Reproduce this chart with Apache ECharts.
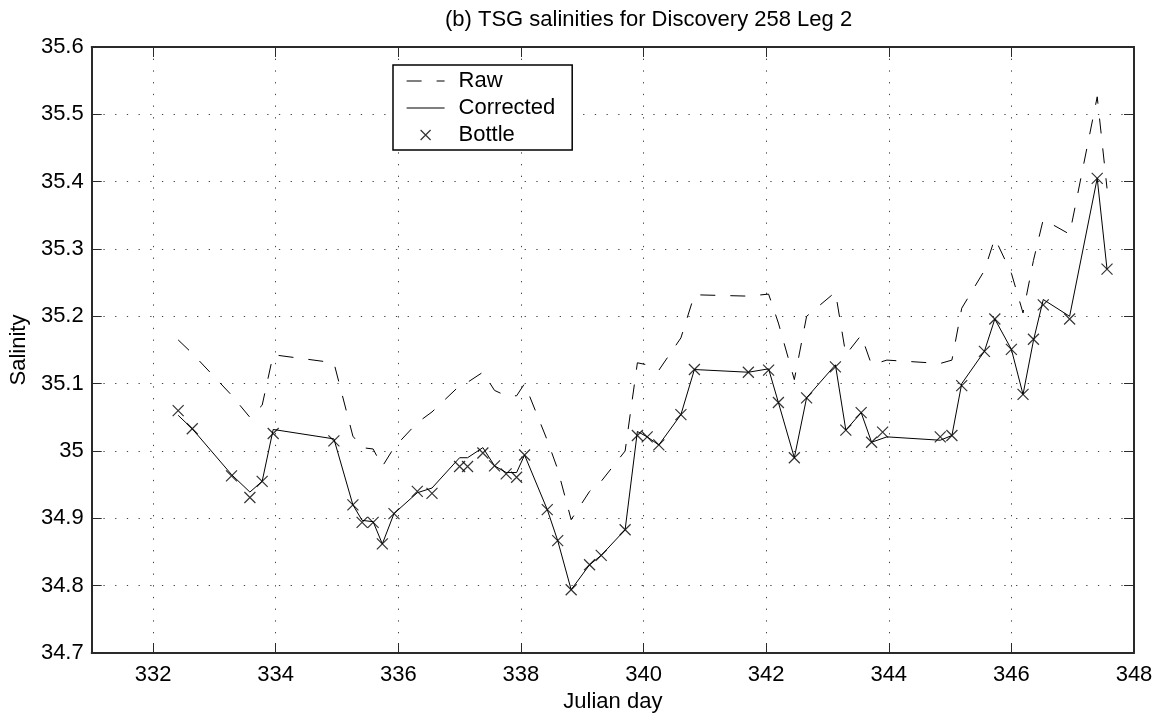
<!DOCTYPE html>
<html>
<head>
<meta charset="utf-8">
<script src="https://cdn.jsdelivr.net/npm/echarts@6/dist/echarts.min.js"></script>
<style>
  html, body { margin: 0; padding: 0; background: #fff; }
  #chart { width: 1166px; height: 718px; }
</style>
</head>
<body>
<div id="chart"></div>
<script>
// Julian days at which the underway TSG record has vertices
const lineDays = [332.41, 332.64, 333.28, 333.58, 333.78, 333.96, 334.95, 335.26, 335.41, 335.59,
  335.74, 335.93, 336.31, 336.55, 337.00, 337.13, 337.38, 337.57, 337.76, 337.93,
  338.06, 338.43, 338.60, 338.82, 339.12, 339.31, 339.70, 339.90, 340.06, 340.25,
  340.61, 340.83, 341.71, 342.04, 342.20, 342.46, 342.66, 343.13, 343.30, 343.55,
  343.72, 343.97, 344.84, 345.03, 345.19, 345.56, 345.73, 346.00, 346.19, 346.36,
  346.52, 346.95, 347.40, 347.56];

// Raw TSG salinity
const rawSal = [35.165, 35.145, 35.083, 35.050, 35.068, 35.143, 35.131, 35.022, 35.005, 35.003,
  34.977, 35.005, 35.042, 35.058, 35.097, 35.102, 35.117, 35.090, 35.082, 35.082,
  35.100, 35.016, 34.973, 34.898, 34.940, 34.955, 35.000, 35.131, 35.128, 35.120,
  35.168, 35.232, 35.230, 35.233, 35.190, 35.106, 35.200, 35.236, 35.143, 35.172,
  35.128, 35.135, 35.130, 35.135, 35.212, 35.268, 35.316, 35.264, 35.205, 35.283,
  35.344, 35.322, 35.526, 35.390];

// TSG salinity after calibration against bottle samples
const correctedSal = [35.053, 35.033, 34.965, 34.939, 34.955, 35.032, 35.018, 34.920, 34.897, 34.895,
  34.862, 34.907, 34.938, 34.945, 34.990, 34.990, 35.005, 34.978, 34.968, 34.968,
  34.994, 34.913, 34.867, 34.794, 34.831, 34.845, 34.883, 35.029, 35.021, 35.009,
  35.054, 35.121, 35.117, 35.122, 35.072, 34.990, 35.079, 35.128, 35.031, 35.057,
  35.013, 35.021, 35.016, 35.023, 35.100, 35.148, 35.196, 35.151, 35.084, 35.164,
  35.225, 35.200, 35.405, 35.270];

// Bottle samples
const bottleDays = [332.41, 332.64, 333.28, 333.58, 333.78, 333.96, 334.95, 335.26, 335.41, 335.59,
  335.74, 335.93, 336.31, 336.55, 337.00, 337.13, 337.38, 337.57, 337.76, 337.93,
  338.06, 338.43, 338.60, 338.82, 339.12, 339.31, 339.70, 339.90, 340.06, 340.25,
  340.61, 340.83, 341.71, 342.04, 342.20, 342.46, 342.66, 343.13, 343.30, 343.55,
  343.72, 343.90, 344.84, 345.03, 345.19, 345.56, 345.73, 346.00, 346.19, 346.36,
  346.52, 346.95, 347.40, 347.56];
const bottleSal = [35.060, 35.033, 34.963, 34.931, 34.955, 35.026, 35.015, 34.920, 34.894, 34.894,
  34.862, 34.907, 34.940, 34.937, 34.977, 34.977, 34.997, 34.978, 34.966, 34.961,
  34.994, 34.913, 34.867, 34.794, 34.831, 34.845, 34.883, 35.023, 35.021, 35.009,
  35.054, 35.121, 35.117, 35.120, 35.072, 34.990, 35.079, 35.125, 35.031, 35.057,
  35.013, 35.028, 35.021, 35.023, 35.097, 35.148, 35.196, 35.151, 35.084, 35.166,
  35.217, 35.196, 35.405, 35.270];

// Axis ranges and tick positions
const xMin = 331, xMax = 348;
const xTicks = [332, 334, 336, 338, 340, 342, 344, 346, 348];
const yMin = 34.7, yMax = 35.6, yStep = 0.1;

const FONT = "'Liberation Sans', Arial, Helvetica, sans-serif";
const INK = '#000';
const FRAME = '#2a2a2a';

const pairs = (xs, ys) => xs.map((x, i) => [x, ys[i]]);

const crossPath = 'path://M0,0L10,10M10,0L0,10';
const crossLegendIcon = 'path://M0,0M38,14M14,2L24,12M24,2L14,12';

const gridLine = { show: true, lineStyle: { color: '#444', width: 1, type: [1.3, 10.4] } };
const frameLine = { show: true, onZero: false, lineStyle: { color: FRAME, width: 2 } };
const tickIn = { show: true, inside: true, length: 10, lineStyle: { color: FRAME, width: 1 } };

const chart = echarts.init(document.getElementById('chart'), null, { renderer: 'canvas' });

chart.setOption({
  animation: false,
  backgroundColor: '#fff',
  title: {
    text: '(b) TSG salinities for Discovery 258 Leg 2',
    left: 445,
    top: 9,
    padding: 0,
    textStyle: { fontFamily: FONT, fontSize: 22, fontWeight: 'normal', color: INK, lineHeight: 22 }
  },
  grid: { left: 91, right: 32, top: 47, bottom: 64, containLabel: false },
  legend: {
    orient: 'vertical',
    left: 393,
    top: 65,
    padding: [5, 17, 4, 13],
    itemWidth: 38,
    itemHeight: 14,
    itemGap: 5,
    backgroundColor: '#fff',
    borderColor: INK,
    borderWidth: 1.5,
    borderRadius: 0,
    selectedMode: false,
    textStyle: { fontFamily: FONT, fontSize: 22, color: INK, lineHeight: 22, padding: [0, 0, 0, 9] },
    data: [
      // line samples only, no point marker
      { name: 'Raw', itemStyle: { opacity: 0 }, lineStyle: { width: 1.2 } },
      { name: 'Corrected', itemStyle: { opacity: 0 }, lineStyle: { width: 1.2 } },
      { name: 'Bottle', icon: crossLegendIcon,
        itemStyle: { color: 'rgba(0,0,0,0)', borderColor: INK, borderWidth: 1.2 } }
    ]
  },
  xAxis: [
    {
      type: 'value', position: 'bottom', min: xMin, max: xMax,
      name: 'Julian day', nameLocation: 'middle', nameGap: 38,
      nameTextStyle: { fontFamily: FONT, fontSize: 22, color: INK },
      axisLine: frameLine,
      axisTick: Object.assign({ customValues: xTicks }, tickIn),
      axisLabel: { customValues: xTicks, margin: 11, fontFamily: FONT, fontSize: 22, color: INK,
        formatter: v => String(v) },
      splitLine: gridLine
    },
    {
      type: 'value', position: 'top', min: xMin, max: xMax,
      axisLine: frameLine,
      axisTick: Object.assign({ customValues: xTicks }, tickIn),
      axisLabel: { show: false },
      splitLine: { show: false }
    }
  ],
  yAxis: [
    {
      type: 'value', position: 'left', min: yMin, max: yMax, interval: yStep,
      name: 'Salinity', nameLocation: 'middle', nameGap: 61, nameRotate: 90,
      nameTextStyle: { fontFamily: FONT, fontSize: 22, color: INK },
      axisLine: frameLine,
      axisTick: tickIn,
      axisLabel: { margin: 8, fontFamily: FONT, fontSize: 22, color: INK,
        formatter: v => String(+v.toFixed(1)) },
      splitLine: gridLine
    },
    {
      type: 'value', position: 'right', min: yMin, max: yMax, interval: yStep,
      axisLine: frameLine,
      axisTick: tickIn,
      axisLabel: { show: false },
      splitLine: { show: false }
    }
  ],
  series: [
    {
      name: 'Raw', type: 'line', xAxisIndex: 0, yAxisIndex: 0,
      data: pairs(lineDays, rawSal),
      symbol: 'none',
      lineStyle: { color: INK, width: 1, type: [15, 15] },
      itemStyle: { color: INK },
      z: 2
    },
    {
      name: 'Corrected', type: 'line', xAxisIndex: 0, yAxisIndex: 0,
      data: pairs(lineDays, correctedSal),
      symbol: 'none',
      lineStyle: { color: INK, width: 1 },
      itemStyle: { color: INK },
      z: 3
    },
    {
      name: 'Bottle', type: 'scatter', xAxisIndex: 0, yAxisIndex: 0,
      data: pairs(bottleDays, bottleSal),
      symbol: crossPath,
      symbolSize: 11,
      itemStyle: { color: 'rgba(0,0,0,0)', borderColor: INK, borderWidth: 1.2 },
      emphasis: { disabled: true },
      z: 4
    }
  ]
});
</script>
</body>
</html>
